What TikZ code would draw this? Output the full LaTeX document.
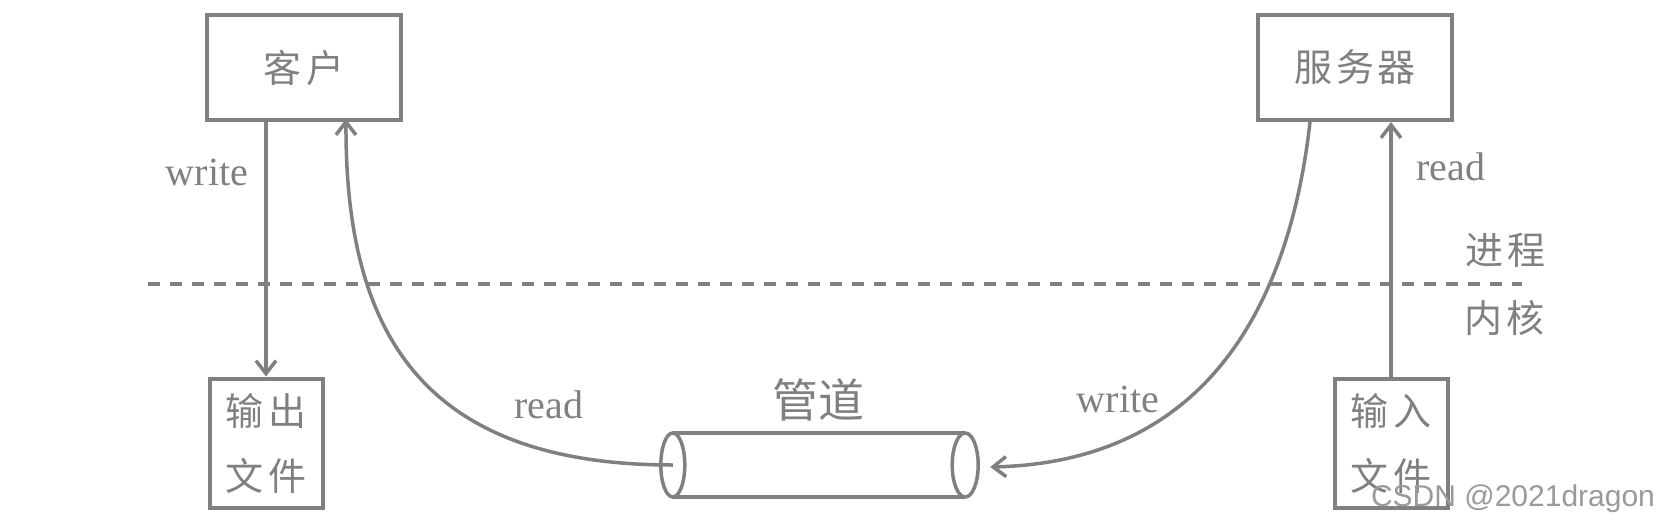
\documentclass[tikz,border=0pt]{standalone}
\usepackage{fontspec}
\setmainfont{Liberation Serif}
\newfontfamily\cjk{Noto Sans CJK SC}
\newfontfamily\wmfont{Liberation Sans}
\usetikzlibrary{arrows.meta}
\definecolor{lg}{RGB}{128,128,128}
\tikzset{
  box/.style={draw=lg, line width=4pt, inner sep=0pt, text=lg, align=center,
    font=\cjk\fontsize{38}{65}\selectfont},
  conn/.style={draw=lg, line width=3.5pt,
    -{Straight Barb[length=13pt,width=20pt,line width=3.5pt]}},
  lbl/.style={text=lg, font=\fontsize{40}{48}\selectfont},
  cjklbl/.style={text=lg, font=\cjk\fontsize{38}{46}\selectfont},
  pipeline/.style={draw=lg, line width=3.5pt},
}
\begin{document}
\begin{tikzpicture}[x=1pt,y=-1pt]
\useasboundingbox (0,0) rectangle (1674,520);
% boxes
\node[box, minimum width=194pt, minimum height=105pt] (client) at (304,67.5) {客\kern6pt 户};
\node[box, minimum width=194pt, minimum height=105pt] (server) at (1355,67.5) {服\kern4pt 务\kern4pt 器};
\node[box, minimum width=113pt, minimum height=129pt] (outfile) at (266,443) {输\kern6pt 出\\文\kern6pt 件};
\node[box, minimum width=113pt, minimum height=129pt] (infile) at (1391,443) {输\kern6pt 入\\文\kern6pt 件};
% pipe (cylinder)
\node[minimum width=292pt, minimum height=64pt, inner sep=0pt] (pipe) at (819,465) {};
\draw[pipeline] (pipe.north west) -- (pipe.north east);
\draw[pipeline] (pipe.south west) -- (pipe.south east);
\draw[pipeline, fill=white] (pipe.west) ellipse [x radius=12pt, y radius=32pt];
\draw[pipeline, fill=white] (pipe.east) ellipse [x radius=13pt, y radius=32pt];
% dashed boundary
\draw[draw=lg, line width=4pt, dash pattern=on 12pt off 10pt] (148,284) -- (1522,284);
% connectors
\draw[conn] (outfile.north |- client.south) -- (outfile.north);
\draw[conn] (infile.north) -- (infile.north |- server.south);
\coordinate (ctip) at ([xshift=42pt,yshift=3pt]client.south);
\draw[conn] (pipe.west) .. controls (420,465) and (345,330) .. (ctip);
\coordinate (stail) at ([xshift=-45pt]server.south);
\coordinate (ptip) at ([xshift=25pt,yshift=-2pt]pipe.east);
\draw[conn] (stail) .. controls (1290,300) and (1210,462) .. (ptip);
% labels
\node[lbl] (w1) at (207,172) {write};
\node[lbl] (r1) at (1451,167) {read};
\node[lbl] (r2) at (549,405) {read};
\node[lbl] (w2) at (1118,399) {write};
\node[text=lg, font=\cjk\fontsize{46}{54}\selectfont] (pname) at (818,400) {管道};
\node[cjklbl] (proc) at (1505,250) {进\kern4pt 程};
\node[cjklbl] (kern) at (1504,318) {内\kern4pt 核};
\node[text=lg!80, font=\wmfont\fontsize{30}{34}\selectfont] (wm) at (1513,499) {CSDN @2021dragon};
\end{tikzpicture}
\end{document}
